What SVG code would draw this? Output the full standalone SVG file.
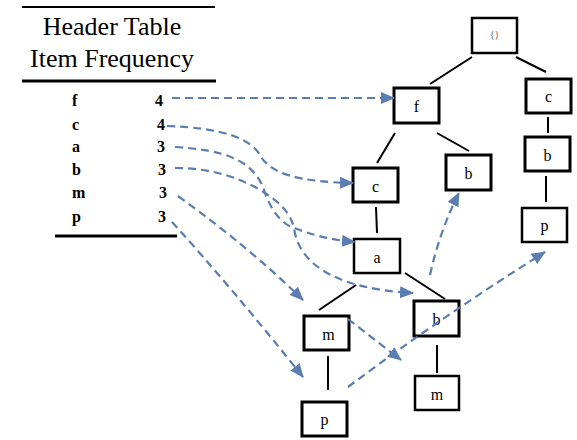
<svg xmlns="http://www.w3.org/2000/svg" width="577" height="440" viewBox="0 0 577 440">
<style>
.hdr{font-family:"Liberation Serif","Times New Roman",serif;font-size:26px;fill:#000}
.it{font-family:"Liberation Serif","Times New Roman",serif;font-size:16px;font-weight:bold;fill:#000}
.box{fill:#fff;stroke:#000;stroke-width:2.5}
.thk{stroke-width:3}
.lbl{font-family:"Liberation Serif","Times New Roman",serif;font-size:16px;fill:#000;text-anchor:middle}
.rl{font-family:"Liberation Serif","Times New Roman",serif;font-size:10px;fill:#666;text-anchor:middle}
.edge{stroke:#000;stroke-width:2;fill:none}
.link{stroke:#5b7db1;stroke-width:2.2;fill:none;stroke-dasharray:8 5;marker-end:url(#ah)}
</style>
<defs>
<marker id="ah" markerUnits="userSpaceOnUse" markerWidth="14" markerHeight="12" refX="13" refY="6" orient="auto">
<path d="M0,0 L14,6 L0,12 Z" fill="#5b7db1"/>
</marker>
</defs>
<rect width="577" height="440" fill="#fff"/>
<g id="header-table">
<line x1="22" y1="7" x2="215" y2="7" stroke="#000" stroke-width="2"/>
<text class="hdr" x="112" y="35" text-anchor="middle">Header Table</text>
<text class="hdr" x="112" y="67" text-anchor="middle">Item Frequency</text>
<line x1="22" y1="81" x2="216" y2="81" stroke="#000" stroke-width="3"/>
<text class="it" x="72" y="106">f</text><text class="it" x="155" y="106">4</text>
<text class="it" x="72" y="130">c</text><text class="it" x="157" y="130">4</text>
<text class="it" x="72" y="152">a</text><text class="it" x="157" y="152">3</text>
<text class="it" x="72" y="175">b</text><text class="it" x="158" y="175">3</text>
<text class="it" x="72" y="198">m</text><text class="it" x="159" y="198">3</text>
<text class="it" x="72" y="222">p</text><text class="it" x="158" y="222">3</text>
<line x1="55" y1="236" x2="177" y2="236" stroke="#000" stroke-width="3"/>
</g>
<g id="tree-edges">
<line class="edge" x1="472" y1="57" x2="430" y2="84"/>
<line class="edge" x1="516" y1="57" x2="546" y2="72"/>
<line class="edge" x1="395" y1="133" x2="377" y2="163"/>
<line class="edge" x1="437" y1="133" x2="469" y2="151"/>
<line class="edge" x1="548" y1="117" x2="548" y2="133" stroke-width="1.5"/>
<line class="edge" x1="546" y1="176" x2="546" y2="202" stroke-width="3"/>
<line class="edge" x1="376" y1="207" x2="377" y2="233"/>
<line class="edge" x1="356" y1="285" x2="319" y2="310"/>
<line class="edge" x1="405" y1="273" x2="445" y2="299"/>
<line class="edge" x1="328" y1="356" x2="328" y2="390"/>
<line class="edge" x1="437" y1="345" x2="437" y2="373"/>
</g>
<g id="n-root"><rect class="box" x="472" y="18" width="45" height="35" stroke-width="2"/><text class="rl" x="494.5" y="38">{}</text></g>
<g id="n-f"><rect class="box thk" x="394" y="88" width="45" height="35"/><text class="lbl" x="416.5" y="112">f</text></g>
<g id="n-c-right"><rect class="box thk" x="526" y="79" width="45" height="34"/><text class="lbl" x="548.5" y="102">c</text></g>
<g id="n-c"><rect class="box thk" x="353" y="168" width="45" height="34"/><text class="lbl" x="375.5" y="192">c</text></g>
<g id="n-b-f"><rect class="box thk" x="446" y="155" width="45" height="35"/><text class="lbl" x="468.5" y="179">b</text></g>
<g id="n-b-right"><rect class="box thk" x="525" y="137" width="45" height="34"/><text class="lbl" x="547.5" y="161">b</text></g>
<g id="n-p-right"><rect class="box" x="522" y="208" width="45" height="34"/><text class="lbl" x="544.5" y="231">p</text></g>
<g id="n-a"><rect class="box" x="354" y="239" width="46" height="34"/><text class="lbl" x="377" y="263">a</text></g>
<g id="n-m-left"><rect class="box thk" x="304" y="316" width="45" height="34"/><text class="lbl" x="328.5" y="340">m</text></g>
<g id="n-b-a"><rect class="box thk" x="414" y="301" width="45" height="35"/><text class="lbl" x="436.5" y="325">b</text></g>
<g id="n-m-bottom"><rect class="box" x="415" y="376" width="44" height="34"/><text class="lbl" x="437" y="400">m</text></g>
<g id="n-p-bottom"><rect class="box thk" x="302" y="402" width="45" height="34"/><text class="lbl" x="324.5" y="425">p</text></g>
<g id="connectors">
<path class="link" d="M172,98 L394,98"/>
<path class="link" d="M167,126 C 222,128 250,138 260,155 C 270,174 300,182 353,183"/>
<path class="link" d="M175,147 C 225,150 255,160 265,193 C 272,212 282,224 294,228 C 310,234 330,240 355,242"/>
<path class="link" d="M175,168 C 215,168 245,180 265,193 C 280,203 290,212 294,228 C 298,258 325,288 413,293"/>
<path class="link" d="M178,196 Q 250,248 303,300"/>
<path class="link" d="M172,222 Q 232,288 303,377"/>
<path class="link" d="M430,275 Q 440,230 459,193"/>
<path class="link" d="M348,319 L 401,360"/>
<path class="link" d="M348,387 Q 440,318 545,252"/>
</g>
</svg>
